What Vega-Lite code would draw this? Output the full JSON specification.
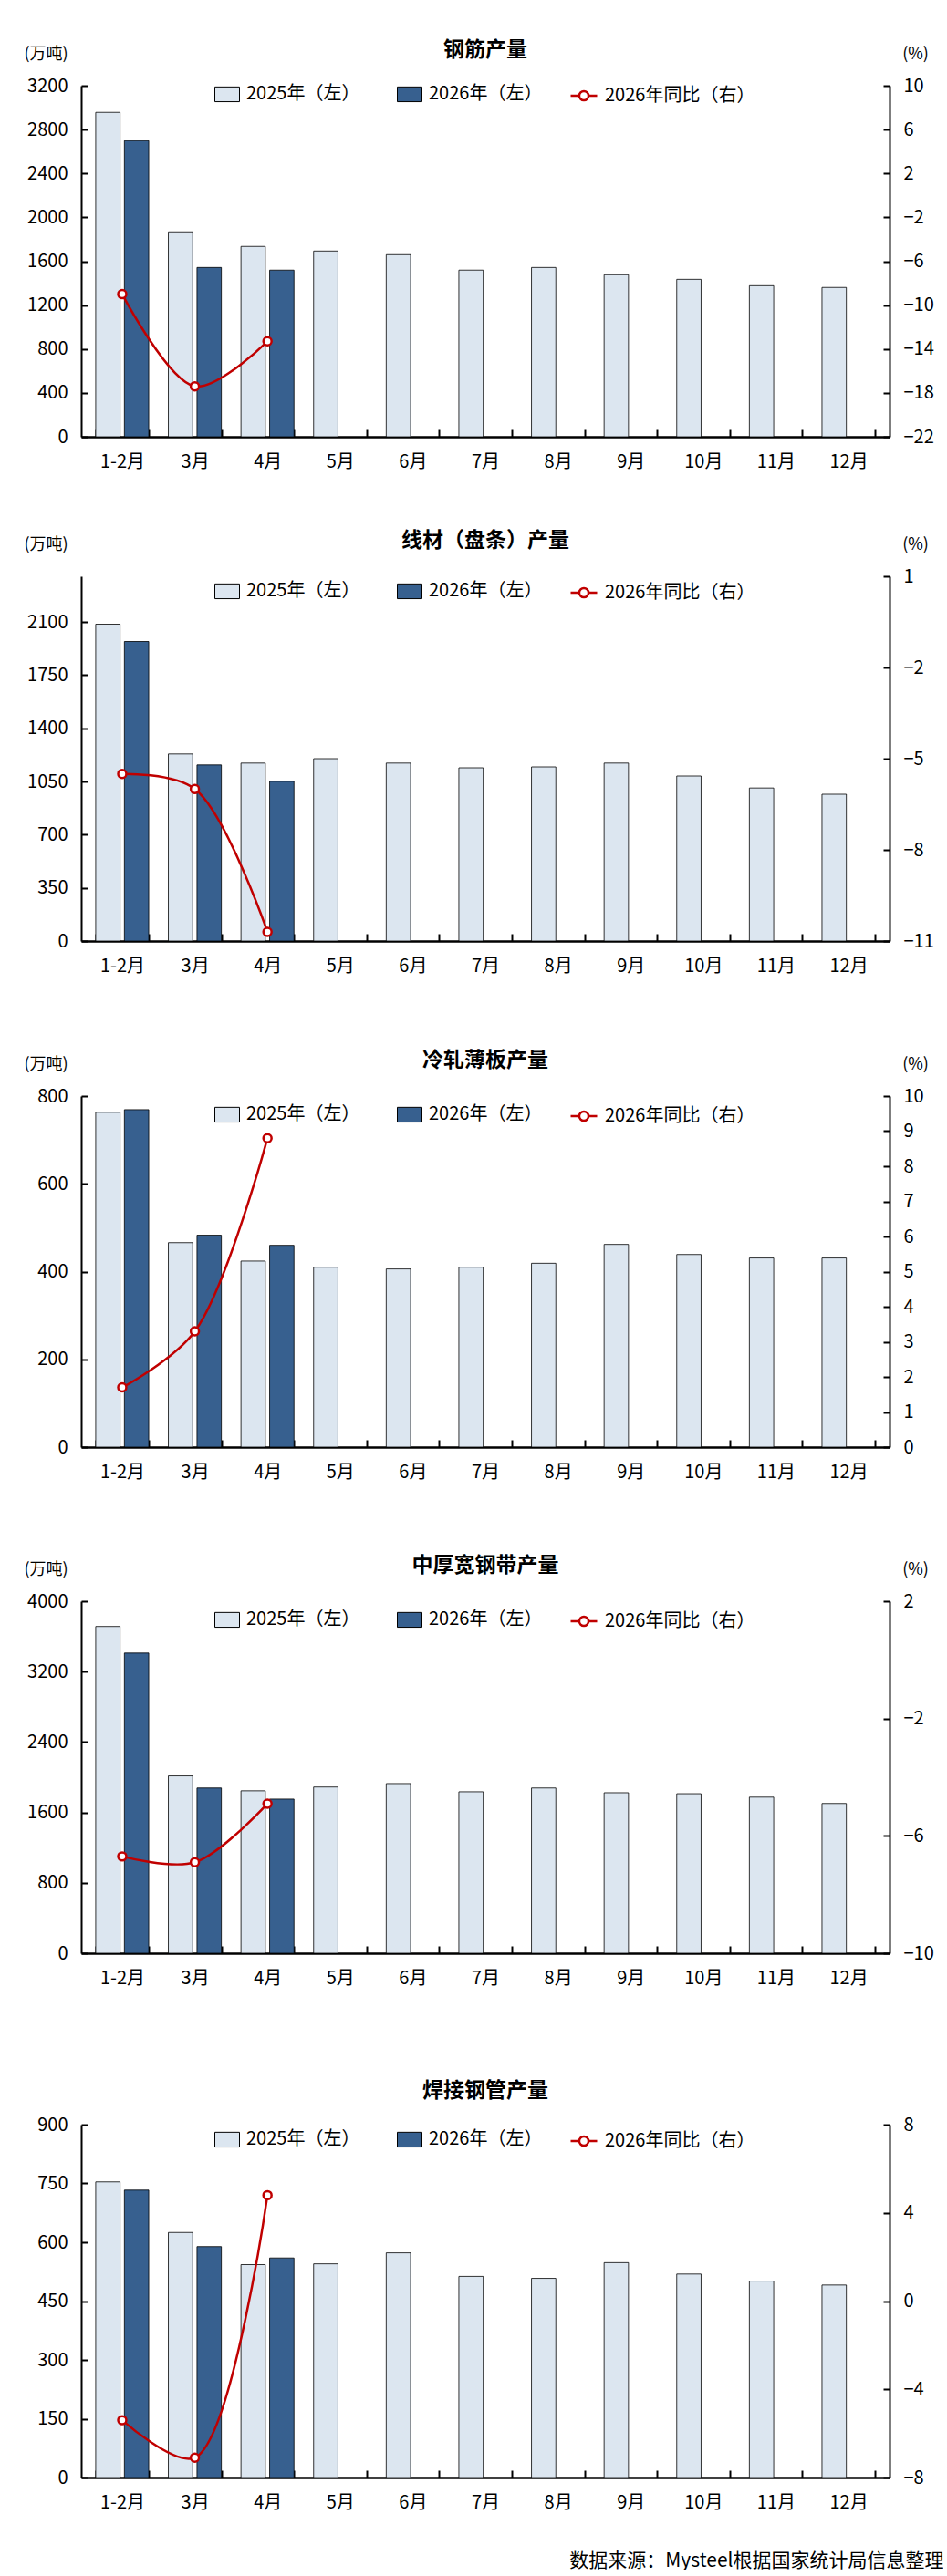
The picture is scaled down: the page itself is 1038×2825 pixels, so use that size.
{
  "$schema": "https://vega.github.io/schema/vega-lite/v6.json",
  "background": "white",
  "padding": {"left": 25, "top": 44, "right": 0, "bottom": 0},
  "datasets": {
    "bars": [
      {"c": "钢筋", "m": "1-2月", "s": "2025年（左）", "v": 2957},
      {"c": "钢筋", "m": "3月", "s": "2025年（左）", "v": 1868},
      {"c": "钢筋", "m": "4月", "s": "2025年（左）", "v": 1735},
      {"c": "钢筋", "m": "5月", "s": "2025年（左）", "v": 1693},
      {"c": "钢筋", "m": "6月", "s": "2025年（左）", "v": 1660},
      {"c": "钢筋", "m": "7月", "s": "2025年（左）", "v": 1519},
      {"c": "钢筋", "m": "8月", "s": "2025年（左）", "v": 1543},
      {"c": "钢筋", "m": "9月", "s": "2025年（左）", "v": 1477},
      {"c": "钢筋", "m": "10月", "s": "2025年（左）", "v": 1435},
      {"c": "钢筋", "m": "11月", "s": "2025年（左）", "v": 1377},
      {"c": "钢筋", "m": "12月", "s": "2025年（左）", "v": 1361},
      {"c": "钢筋", "m": "1-2月", "s": "2026年（左）", "v": 2699},
      {"c": "钢筋", "m": "3月", "s": "2026年（左）", "v": 1543},
      {"c": "钢筋", "m": "4月", "s": "2026年（左）", "v": 1519},
      {"c": "线材", "m": "1-2月", "s": "2025年（左）", "v": 2085},
      {"c": "线材", "m": "3月", "s": "2025年（左）", "v": 1231},
      {"c": "线材", "m": "4月", "s": "2025年（左）", "v": 1171},
      {"c": "线材", "m": "5月", "s": "2025年（左）", "v": 1200},
      {"c": "线材", "m": "6月", "s": "2025年（左）", "v": 1171},
      {"c": "线材", "m": "7月", "s": "2025年（左）", "v": 1140},
      {"c": "线材", "m": "8月", "s": "2025年（左）", "v": 1146},
      {"c": "线材", "m": "9月", "s": "2025年（左）", "v": 1171},
      {"c": "线材", "m": "10月", "s": "2025年（左）", "v": 1086},
      {"c": "线材", "m": "11月", "s": "2025年（左）", "v": 1007},
      {"c": "线材", "m": "12月", "s": "2025年（左）", "v": 966},
      {"c": "线材", "m": "1-2月", "s": "2026年（左）", "v": 1971},
      {"c": "线材", "m": "3月", "s": "2026年（左）", "v": 1159},
      {"c": "线材", "m": "4月", "s": "2026年（左）", "v": 1051},
      {"c": "冷轧", "m": "1-2月", "s": "2025年（左）", "v": 763},
      {"c": "冷轧", "m": "3月", "s": "2025年（左）", "v": 466},
      {"c": "冷轧", "m": "4月", "s": "2025年（左）", "v": 424},
      {"c": "冷轧", "m": "5月", "s": "2025年（左）", "v": 410},
      {"c": "冷轧", "m": "6月", "s": "2025年（左）", "v": 406},
      {"c": "冷轧", "m": "7月", "s": "2025年（左）", "v": 410},
      {"c": "冷轧", "m": "8月", "s": "2025年（左）", "v": 419},
      {"c": "冷轧", "m": "9月", "s": "2025年（左）", "v": 462},
      {"c": "冷轧", "m": "10月", "s": "2025年（左）", "v": 439},
      {"c": "冷轧", "m": "11月", "s": "2025年（左）", "v": 431},
      {"c": "冷轧", "m": "12月", "s": "2025年（左）", "v": 431},
      {"c": "冷轧", "m": "1-2月", "s": "2026年（左）", "v": 769},
      {"c": "冷轧", "m": "3月", "s": "2026年（左）", "v": 483},
      {"c": "冷轧", "m": "4月", "s": "2026年（左）", "v": 460},
      {"c": "中厚", "m": "1-2月", "s": "2025年（左）", "v": 3713},
      {"c": "中厚", "m": "3月", "s": "2025年（左）", "v": 2015},
      {"c": "中厚", "m": "4月", "s": "2025年（左）", "v": 1846},
      {"c": "中厚", "m": "5月", "s": "2025年（左）", "v": 1889},
      {"c": "中厚", "m": "6月", "s": "2025年（左）", "v": 1928},
      {"c": "中厚", "m": "7月", "s": "2025年（左）", "v": 1835},
      {"c": "中厚", "m": "8月", "s": "2025年（左）", "v": 1878},
      {"c": "中厚", "m": "9月", "s": "2025年（左）", "v": 1824},
      {"c": "中厚", "m": "10月", "s": "2025年（左）", "v": 1813},
      {"c": "中厚", "m": "11月", "s": "2025年（左）", "v": 1774},
      {"c": "中厚", "m": "12月", "s": "2025年（左）", "v": 1702},
      {"c": "中厚", "m": "1-2月", "s": "2026年（左）", "v": 3411},
      {"c": "中厚", "m": "3月", "s": "2026年（左）", "v": 1878},
      {"c": "中厚", "m": "4月", "s": "2026年（左）", "v": 1752},
      {"c": "焊管", "m": "1-2月", "s": "2025年（左）", "v": 754},
      {"c": "焊管", "m": "3月", "s": "2025年（左）", "v": 625},
      {"c": "焊管", "m": "4月", "s": "2025年（左）", "v": 543},
      {"c": "焊管", "m": "5月", "s": "2025年（左）", "v": 545},
      {"c": "焊管", "m": "6月", "s": "2025年（左）", "v": 573},
      {"c": "焊管", "m": "7月", "s": "2025年（左）", "v": 513},
      {"c": "焊管", "m": "8月", "s": "2025年（左）", "v": 508},
      {"c": "焊管", "m": "9月", "s": "2025年（左）", "v": 548},
      {"c": "焊管", "m": "10月", "s": "2025年（左）", "v": 519},
      {"c": "焊管", "m": "11月", "s": "2025年（左）", "v": 501},
      {"c": "焊管", "m": "12月", "s": "2025年（左）", "v": 491},
      {"c": "焊管", "m": "1-2月", "s": "2026年（左）", "v": 733},
      {"c": "焊管", "m": "3月", "s": "2026年（左）", "v": 589},
      {"c": "焊管", "m": "4月", "s": "2026年（左）", "v": 560}
    ],
    "yoy": [
      {"c": "钢筋", "m": "1-2月", "s": "2026年同比（右）", "y": -9.0},
      {"c": "钢筋", "m": "3月", "s": "2026年同比（右）", "y": -17.4},
      {"c": "钢筋", "m": "4月", "s": "2026年同比（右）", "y": -13.3},
      {"c": "线材", "m": "1-2月", "s": "2026年同比（右）", "y": -5.5},
      {"c": "线材", "m": "3月", "s": "2026年同比（右）", "y": -6.0},
      {"c": "线材", "m": "4月", "s": "2026年同比（右）", "y": -10.7},
      {"c": "冷轧", "m": "1-2月", "s": "2026年同比（右）", "y": 1.7},
      {"c": "冷轧", "m": "3月", "s": "2026年同比（右）", "y": 3.3},
      {"c": "冷轧", "m": "4月", "s": "2026年同比（右）", "y": 8.8},
      {"c": "中厚", "m": "1-2月", "s": "2026年同比（右）", "y": -6.7},
      {"c": "中厚", "m": "3月", "s": "2026年同比（右）", "y": -6.9},
      {"c": "中厚", "m": "4月", "s": "2026年同比（右）", "y": -4.9},
      {"c": "焊管", "m": "1-2月", "s": "2026年同比（右）", "y": -5.4},
      {"c": "焊管", "m": "3月", "s": "2026年同比（右）", "y": -7.1},
      {"c": "焊管", "m": "4月", "s": "2026年同比（右）", "y": 4.8}
    ]
  },
  "bounds": "flush",
  "spacing": 0,
  "resolve": {
    "scale": {"fill": "independent", "stroke": "independent"},
    "legend": {"fill": "independent", "stroke": "independent"}
  },
  "vconcat": [
    {
      "title": {"text": "钢筋产量", "offset": -17},
      "width": 886,
      "height": 385,
      "layer": [
        {
          "data": {"name": "bars"},
          "transform": [{"filter": "datum.c == '钢筋'"}],
          "mark": {"type": "bar", "stroke": "black", "strokeWidth": 0.8},
          "encoding": {
            "x": {"field": "m", "type": "nominal", "scale": {"domain": ["1-2月", "3月", "4月", "5月", "6月", "7月", "8月", "9月", "10月", "11月", "12月"], "paddingInner": 0.27},
              "axis": {"title": null, "labelAngle": 0, "tickBand": "extent", "tickSize": -8, "labelPadding": 25, "domainWidth": 2.5}},
            "xOffset": {"field": "s", "scale": {"domain": ["2025年（左）", "2026年（左）"], "paddingInner": 0.15, "paddingOuter": 0}},
            "y": {"field": "v", "type": "quantitative", "scale": {"domain": [0, 3200]},
              "axis": {"values": [0, 400, 800, 1200, 1600, 2000, 2400, 2800, 3200], "format": "d", "tickSize": -7, "labelPadding": 22, "title": "(万吨)", "titleAngle": 0, "titleX": -39, "titleY": -35, "titleAlign": "center", "titleBaseline": "middle"}},
            "fill": {"field": "s", "type": "nominal", "scale": {"domain": ["2025年（左）", "2026年（左）"], "range": ["#dce6f0", "#37608f"]},
              "legend": {"orient": "none", "legendX": 146, "legendY": -5, "direction": "horizontal", "title": null, "symbolType": "M-1,-0.6H1V0.6H-1Z", "symbolSize": 729, "symbolStrokeColor": "black", "symbolStrokeWidth": 1, "labelOffset": 7, "columnPadding": 38, "labelLimit": 300}}
          }
        },
        {
          "data": {"name": "yoy"},
          "transform": [{"filter": "datum.c == '钢筋'"}],
          "encoding": {
            "x": {"field": "m", "type": "nominal", "scale": {"domain": ["1-2月", "3月", "4月", "5月", "6月", "7月", "8月", "9月", "10月", "11月", "12月"]}},
            "y": {"field": "y", "type": "quantitative", "scale": {"domain": [-22, 10]},
              "axis": {"orient": "right", "values": [-22, -18, -14, -10, -6, -2, 2, 6, 10], "tickSize": -7, "labelPadding": 22, "title": "(%)", "titleAngle": 0, "titleX": 28, "titleY": -35, "titleAlign": "center", "titleBaseline": "middle"}}
          },
          "layer": [
            {
              "mark": {"type": "line", "strokeWidth": 2.5, "interpolate": "catmull-rom"},
              "encoding": {
                "stroke": {"field": "s", "type": "nominal", "scale": {"domain": ["2026年同比（右）"], "range": ["#c00000"]},
                  "legend": {"orient": "none", "legendX": 535, "legendY": -5, "title": null, "symbolType": "M-1,0H-0.35M0.35,0H1M-0.35,0A0.35,0.35 0 1,0 0.35,0A0.35,0.35 0 1,0 -0.35,0Z", "symbolSize": 841, "symbolStrokeWidth": 2.5, "symbolFillColor": "white", "labelOffset": 7, "labelLimit": 300}}
              }
            },
            {"mark": {"type": "circle", "fill": "white", "stroke": "#c00000", "strokeWidth": 2.5, "size": 80, "opacity": 1}}
          ]
        }
      ],
      "resolve": {"scale": {"y": "independent"}}
    },
    {"width": 886, "height": 153, "data": {"values": []}, "mark": "point"},
    {
      "title": {"text": "线材（盘条）产量", "offset": -17},
      "width": 886,
      "height": 400,
      "layer": [
        {
          "data": {"name": "bars"},
          "transform": [{"filter": "datum.c == '线材'"}],
          "mark": {"type": "bar", "stroke": "black", "strokeWidth": 0.8},
          "encoding": {
            "x": {"field": "m", "type": "nominal", "scale": {"domain": ["1-2月", "3月", "4月", "5月", "6月", "7月", "8月", "9月", "10月", "11月", "12月"], "paddingInner": 0.27},
              "axis": {"title": null, "labelAngle": 0, "tickBand": "extent", "tickSize": -8, "labelPadding": 25, "domainWidth": 2.5}},
            "xOffset": {"field": "s", "scale": {"domain": ["2025年（左）", "2026年（左）"], "paddingInner": 0.15, "paddingOuter": 0}},
            "y": {"field": "v", "type": "quantitative", "scale": {"domain": [0, 2400]},
              "axis": {"values": [0, 350, 700, 1050, 1400, 1750, 2100], "format": "d", "tickSize": -7, "labelPadding": 22, "title": "(万吨)", "titleAngle": 0, "titleX": -39, "titleY": -35, "titleAlign": "center", "titleBaseline": "middle"}},
            "fill": {"field": "s", "type": "nominal", "scale": {"domain": ["2025年（左）", "2026年（左）"], "range": ["#dce6f0", "#37608f"]},
              "legend": {"orient": "none", "legendX": 146, "legendY": 2, "direction": "horizontal", "title": null, "symbolType": "M-1,-0.6H1V0.6H-1Z", "symbolSize": 729, "symbolStrokeColor": "black", "symbolStrokeWidth": 1, "labelOffset": 7, "columnPadding": 38, "labelLimit": 300}}
          }
        },
        {
          "data": {"name": "yoy"},
          "transform": [{"filter": "datum.c == '线材'"}],
          "encoding": {
            "x": {"field": "m", "type": "nominal", "scale": {"domain": ["1-2月", "3月", "4月", "5月", "6月", "7月", "8月", "9月", "10月", "11月", "12月"]}},
            "y": {"field": "y", "type": "quantitative", "scale": {"domain": [-11, 1]},
              "axis": {"orient": "right", "values": [-11, -8, -5, -2, 1], "tickSize": -7, "labelPadding": 22, "title": "(%)", "titleAngle": 0, "titleX": 28, "titleY": -35, "titleAlign": "center", "titleBaseline": "middle"}}
          },
          "layer": [
            {
              "mark": {"type": "line", "strokeWidth": 2.5, "interpolate": "catmull-rom"},
              "encoding": {
                "stroke": {"field": "s", "type": "nominal", "scale": {"domain": ["2026年同比（右）"], "range": ["#c00000"]},
                  "legend": {"orient": "none", "legendX": 535, "legendY": 2, "title": null, "symbolType": "M-1,0H-0.35M0.35,0H1M-0.35,0A0.35,0.35 0 1,0 0.35,0A0.35,0.35 0 1,0 -0.35,0Z", "symbolSize": 841, "symbolStrokeWidth": 2.5, "symbolFillColor": "white", "labelOffset": 7, "labelLimit": 300}}
              }
            },
            {"mark": {"type": "circle", "fill": "white", "stroke": "#c00000", "strokeWidth": 2.5, "size": 80, "opacity": 1}}
          ]
        }
      ],
      "resolve": {"scale": {"y": "independent"}}
    },
    {"width": 886, "height": 170, "data": {"values": []}, "mark": "point"},
    {
      "title": {"text": "冷轧薄板产量", "offset": -17},
      "width": 886,
      "height": 385,
      "layer": [
        {
          "data": {"name": "bars"},
          "transform": [{"filter": "datum.c == '冷轧'"}],
          "mark": {"type": "bar", "stroke": "black", "strokeWidth": 0.8},
          "encoding": {
            "x": {"field": "m", "type": "nominal", "scale": {"domain": ["1-2月", "3月", "4月", "5月", "6月", "7月", "8月", "9月", "10月", "11月", "12月"], "paddingInner": 0.27},
              "axis": {"title": null, "labelAngle": 0, "tickBand": "extent", "tickSize": -8, "labelPadding": 25, "domainWidth": 2.5}},
            "xOffset": {"field": "s", "scale": {"domain": ["2025年（左）", "2026年（左）"], "paddingInner": 0.15, "paddingOuter": 0}},
            "y": {"field": "v", "type": "quantitative", "scale": {"domain": [0, 800]},
              "axis": {"values": [0, 200, 400, 600, 800], "format": "d", "tickSize": -7, "labelPadding": 22, "title": "(万吨)", "titleAngle": 0, "titleX": -39, "titleY": -35, "titleAlign": "center", "titleBaseline": "middle"}},
            "fill": {"field": "s", "type": "nominal", "scale": {"domain": ["2025年（左）", "2026年（左）"], "range": ["#dce6f0", "#37608f"]},
              "legend": {"orient": "none", "legendX": 146, "legendY": 6, "direction": "horizontal", "title": null, "symbolType": "M-1,-0.6H1V0.6H-1Z", "symbolSize": 729, "symbolStrokeColor": "black", "symbolStrokeWidth": 1, "labelOffset": 7, "columnPadding": 38, "labelLimit": 300}}
          }
        },
        {
          "data": {"name": "yoy"},
          "transform": [{"filter": "datum.c == '冷轧'"}],
          "encoding": {
            "x": {"field": "m", "type": "nominal", "scale": {"domain": ["1-2月", "3月", "4月", "5月", "6月", "7月", "8月", "9月", "10月", "11月", "12月"]}},
            "y": {"field": "y", "type": "quantitative", "scale": {"domain": [0, 10]},
              "axis": {"orient": "right", "values": [0, 1, 2, 3, 4, 5, 6, 7, 8, 9, 10], "tickSize": -7, "labelPadding": 22, "title": "(%)", "titleAngle": 0, "titleX": 28, "titleY": -35, "titleAlign": "center", "titleBaseline": "middle"}}
          },
          "layer": [
            {
              "mark": {"type": "line", "strokeWidth": 2.5, "interpolate": "catmull-rom"},
              "encoding": {
                "stroke": {"field": "s", "type": "nominal", "scale": {"domain": ["2026年同比（右）"], "range": ["#c00000"]},
                  "legend": {"orient": "none", "legendX": 535, "legendY": 6, "title": null, "symbolType": "M-1,0H-0.35M0.35,0H1M-0.35,0A0.35,0.35 0 1,0 0.35,0A0.35,0.35 0 1,0 -0.35,0Z", "symbolSize": 841, "symbolStrokeWidth": 2.5, "symbolFillColor": "white", "labelOffset": 7, "labelLimit": 300}}
              }
            },
            {"mark": {"type": "circle", "fill": "white", "stroke": "#c00000", "strokeWidth": 2.5, "size": 80, "opacity": 1}}
          ]
        }
      ],
      "resolve": {"scale": {"y": "independent"}}
    },
    {"width": 886, "height": 169, "data": {"values": []}, "mark": "point"},
    {
      "title": {"text": "中厚宽钢带产量", "offset": -17},
      "width": 886,
      "height": 386,
      "layer": [
        {
          "data": {"name": "bars"},
          "transform": [{"filter": "datum.c == '中厚'"}],
          "mark": {"type": "bar", "stroke": "black", "strokeWidth": 0.8},
          "encoding": {
            "x": {"field": "m", "type": "nominal", "scale": {"domain": ["1-2月", "3月", "4月", "5月", "6月", "7月", "8月", "9月", "10月", "11月", "12月"], "paddingInner": 0.27},
              "axis": {"title": null, "labelAngle": 0, "tickBand": "extent", "tickSize": -8, "labelPadding": 25, "domainWidth": 2.5}},
            "xOffset": {"field": "s", "scale": {"domain": ["2025年（左）", "2026年（左）"], "paddingInner": 0.15, "paddingOuter": 0}},
            "y": {"field": "v", "type": "quantitative", "scale": {"domain": [0, 4000]},
              "axis": {"values": [0, 800, 1600, 2400, 3200, 4000], "format": "d", "tickSize": -7, "labelPadding": 22, "title": "(万吨)", "titleAngle": 0, "titleX": -39, "titleY": -35, "titleAlign": "center", "titleBaseline": "middle"}},
            "fill": {"field": "s", "type": "nominal", "scale": {"domain": ["2025年（左）", "2026年（左）"], "range": ["#dce6f0", "#37608f"]},
              "legend": {"orient": "none", "legendX": 146, "legendY": 6, "direction": "horizontal", "title": null, "symbolType": "M-1,-0.6H1V0.6H-1Z", "symbolSize": 729, "symbolStrokeColor": "black", "symbolStrokeWidth": 1, "labelOffset": 7, "columnPadding": 38, "labelLimit": 300}}
          }
        },
        {
          "data": {"name": "yoy"},
          "transform": [{"filter": "datum.c == '中厚'"}],
          "encoding": {
            "x": {"field": "m", "type": "nominal", "scale": {"domain": ["1-2月", "3月", "4月", "5月", "6月", "7月", "8月", "9月", "10月", "11月", "12月"]}},
            "y": {"field": "y", "type": "quantitative", "scale": {"domain": [-10, 2]},
              "axis": {"orient": "right", "values": [-10, -6, -2, 2], "tickSize": -7, "labelPadding": 22, "title": "(%)", "titleAngle": 0, "titleX": 28, "titleY": -35, "titleAlign": "center", "titleBaseline": "middle"}}
          },
          "layer": [
            {
              "mark": {"type": "line", "strokeWidth": 2.5, "interpolate": "catmull-rom"},
              "encoding": {
                "stroke": {"field": "s", "type": "nominal", "scale": {"domain": ["2026年同比（右）"], "range": ["#c00000"]},
                  "legend": {"orient": "none", "legendX": 535, "legendY": 6, "title": null, "symbolType": "M-1,0H-0.35M0.35,0H1M-0.35,0A0.35,0.35 0 1,0 0.35,0A0.35,0.35 0 1,0 -0.35,0Z", "symbolSize": 841, "symbolStrokeWidth": 2.5, "symbolFillColor": "white", "labelOffset": 7, "labelLimit": 300}}
              }
            },
            {"mark": {"type": "circle", "fill": "white", "stroke": "#c00000", "strokeWidth": 2.5, "size": 80, "opacity": 1}}
          ]
        }
      ],
      "resolve": {"scale": {"y": "independent"}}
    },
    {"width": 886, "height": 188, "data": {"values": []}, "mark": "point"},
    {
      "title": {"text": "焊接钢管产量", "offset": 15},
      "width": 886,
      "height": 387,
      "layer": [
        {
          "data": {"name": "bars"},
          "transform": [{"filter": "datum.c == '焊管'"}],
          "mark": {"type": "bar", "stroke": "black", "strokeWidth": 0.8},
          "encoding": {
            "x": {"field": "m", "type": "nominal", "scale": {"domain": ["1-2月", "3月", "4月", "5月", "6月", "7月", "8月", "9月", "10月", "11月", "12月"], "paddingInner": 0.27},
              "axis": {"title": "数据来源：Mysteel根据国家统计局信息整理", "titleX": 945, "titleY": 91, "titleAlign": "right", "titleBaseline": "middle", "titleFontSize": 21, "labelAngle": 0, "tickBand": "extent", "tickSize": -8, "labelPadding": 25, "domainWidth": 2.5}},
            "xOffset": {"field": "s", "scale": {"domain": ["2025年（左）", "2026年（左）"], "paddingInner": 0.15, "paddingOuter": 0}},
            "y": {"field": "v", "type": "quantitative", "scale": {"domain": [0, 900]},
              "axis": {"values": [0, 150, 300, 450, 600, 750, 900], "format": "d", "tickSize": -7, "labelPadding": 22, "title": null}},
            "fill": {"field": "s", "type": "nominal", "scale": {"domain": ["2025年（左）", "2026年（左）"], "range": ["#dce6f0", "#37608f"]},
              "legend": {"orient": "none", "legendX": 146, "legendY": 2, "direction": "horizontal", "title": null, "symbolType": "M-1,-0.6H1V0.6H-1Z", "symbolSize": 729, "symbolStrokeColor": "black", "symbolStrokeWidth": 1, "labelOffset": 7, "columnPadding": 38, "labelLimit": 300}}
          }
        },
        {
          "data": {"name": "yoy"},
          "transform": [{"filter": "datum.c == '焊管'"}],
          "encoding": {
            "x": {"field": "m", "type": "nominal", "scale": {"domain": ["1-2月", "3月", "4月", "5月", "6月", "7月", "8月", "9月", "10月", "11月", "12月"]}},
            "y": {"field": "y", "type": "quantitative", "scale": {"domain": [-8, 8]},
              "axis": {"orient": "right", "values": [-8, -4, 0, 4, 8], "tickSize": -7, "labelPadding": 22, "title": null}}
          },
          "layer": [
            {
              "mark": {"type": "line", "strokeWidth": 2.5, "interpolate": "catmull-rom"},
              "encoding": {
                "stroke": {"field": "s", "type": "nominal", "scale": {"domain": ["2026年同比（右）"], "range": ["#c00000"]},
                  "legend": {"orient": "none", "legendX": 535, "legendY": 2, "title": null, "symbolType": "M-1,0H-0.35M0.35,0H1M-0.35,0A0.35,0.35 0 1,0 0.35,0A0.35,0.35 0 1,0 -0.35,0Z", "symbolSize": 841, "symbolStrokeWidth": 2.5, "symbolFillColor": "white", "labelOffset": 7, "labelLimit": 300}}
              }
            },
            {"mark": {"type": "circle", "fill": "white", "stroke": "#c00000", "strokeWidth": 2.5, "size": 80, "opacity": 1}}
          ]
        }
      ],
      "resolve": {"scale": {"y": "independent"}}
    }
  ],
  "config": {
    "font": "Noto Sans CJK SC",
    "view": {"stroke": null},
    "axis": {
      "labelFont": "Noto Sans CJK SC",
      "labelFontSize": 20,
      "labelColor": "black",
      "domainColor": "black",
      "domainWidth": 2,
      "tickColor": "black",
      "tickWidth": 2,
      "grid": false,
      "titleFont": "Noto Sans CJK SC",
      "titleFontSize": 18,
      "titleFontWeight": "normal",
      "titleColor": "black"
    },
    "legend": {
      "labelFont": "Noto Sans CJK SC",
      "labelFontSize": 20,
      "labelColor": "black"
    },
    "title": {
      "font": "Noto Sans CJK SC",
      "fontSize": 23,
      "fontWeight": "bold",
      "color": "black"
    }
  }
}
